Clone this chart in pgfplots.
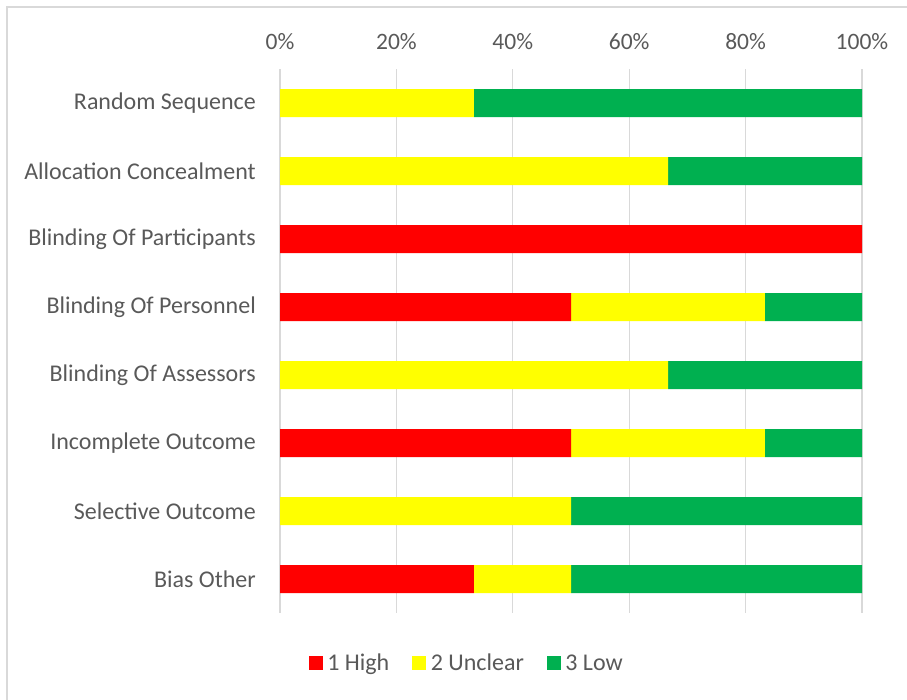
\documentclass[border=0pt]{standalone}
\usepackage{pgfplots}
\pgfplotsset{compat=1.18}
\usepackage{fontspec}
\setmainfont{Carlito}
\definecolor{rHigh}{HTML}{FF0000}
\definecolor{rUnc}{HTML}{FFFF00}
\definecolor{rLow}{HTML}{00B050}
\definecolor{gridc}{HTML}{D9D9D9}
\definecolor{txt}{HTML}{595959}
\pgfplotstableread{
idx high unclear low
1 0 33.33 66.67
2 0 66.67 33.33
3 100 0 0
4 50 33.33 16.67
5 0 66.67 33.33
6 50 33.33 16.67
7 0 50 50
8 33.33 16.67 50
}\riskdata
\begin{document}
\begin{tikzpicture}[x=1pt,y=1pt]
\useasboundingbox (0,0) rectangle (907,700);
\draw[gridc, line width=1.5pt] (7,0) -- (7,693) -- (907,693);
\begin{axis}[
  at={(280pt,87pt)}, anchor=south west,
  scale only axis, width=582pt, height=544pt,
  xbar stacked, bar width=28pt,
  xmin=0, xmax=100, ymin=0.5, ymax=8.5, y dir=reverse,
  axis line style={draw=none},
  xtick={0,20,40,60,80,100},
  xticklabels={0\%,20\%,40\%,60\%,80\%,100\%},
  xticklabel pos=upper,
  xmajorgrids, major grid style={gridc, line width=1.3pt},
  ytick={1,...,8},
  yticklabels={Random Sequence,Allocation Concealment,Blinding Of Participants,Blinding Of Personnel,Blinding Of Assessors,Incomplete Outcome,Selective Outcome,Bias Other},
  major tick length=0pt,
  tick label style={font=\fontsize{23.5}{27}\selectfont, text=txt},
  yticklabel style={font=\fontsize{24}{28}\selectfont},
  xticklabel style={inner sep=0pt, anchor=south},
  xticklabel shift=19pt,
  yticklabel style={inner sep=0pt, anchor=east},
  yticklabel shift=24pt,
  legend columns=3,
  legend style={draw=none, at={(0.321,-0.092)}, anchor=center,
    font=\fontsize{24}{28}\selectfont, text=txt,
    /tikz/every odd column/.append style={column sep=2.5pt},
    /tikz/every even column/.append style={column sep=21pt}},
  legend image code/.code={\fill[#1,draw=none] (0pt,-7pt) rectangle (14pt,7pt);},
]
\addplot[fill=rHigh, draw=none] table[x=high, y=idx] {\riskdata};
\addplot[fill=rUnc, draw=none] table[x=unclear, y=idx] {\riskdata};
\addplot[fill=rLow, draw=none] table[x=low, y=idx] {\riskdata};
\legend{1 High, 2 Unclear, 3 Low}
\end{axis}
\end{tikzpicture}
\end{document}
